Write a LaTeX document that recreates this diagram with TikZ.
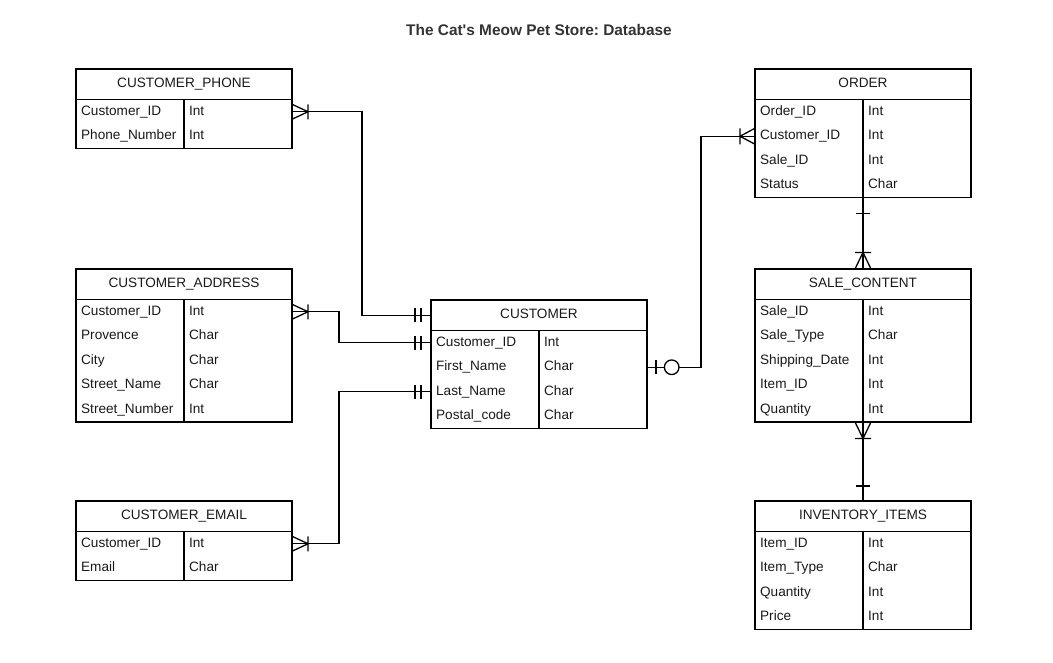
\documentclass[tikz,border=0pt]{standalone}
\usepackage{fontspec}
\setmainfont{Liberation Sans}[Ligatures=TeXOff]
\usetikzlibrary{positioning}
\frenchspacing
\begin{document}
\begin{tikzpicture}[x=1pt, y=-1pt, line width=1.3pt]
\tikzstyle{every node} = [font=\fontsize{13.6}{16}\selectfont, text=black!90]
\tikzstyle{head} = [draw, minimum width=216pt, minimum height=30.5pt, inner sep=0pt, outer sep=0pt, text height=9.7pt, text depth=4pt]
\tikzstyle{body} = [draw, minimum width=216pt, inner sep=0pt, outer sep=0pt]
\tikzstyle{field} = [anchor=west, inner sep=0pt, text height=9.9pt, text depth=2.9pt]
\useasboundingbox (0,0) rectangle (1053,662);

\node[font=\fontsize{15.4}{18}\selectfont\bfseries, text=black!80] (title) at (539,30) {The Cat's Meow Pet Store: Database};

% left tables
\node[head] (phone) at (184,84.25) {CUSTOMER\_PHONE};
\node[body, minimum height=49pt, below=0pt of phone] (phone-b) {};
\draw (phone-b.north) -- (phone-b.south);
\foreach \f/\t [count=\i] in {Customer\_ID/Int, Phone\_Number/Int}
  \path (phone-b.north west) ++(4.5,{24.5*\i-12.25}) node[field] (phone-\i) {\f}
        (phone-b.north) ++(4.5,{24.5*\i-12.25}) node[field] {\t};

\node[head] (address) at (184,284.25) {CUSTOMER\_ADDRESS};
\node[body, minimum height=122.5pt, below=0pt of address] (address-b) {};
\draw (address-b.north) -- (address-b.south);
\foreach \f/\t [count=\i] in {Customer\_ID/Int, Provence/Char, City/Char, Street\_Name/Char, Street\_Number/Int}
  \path (address-b.north west) ++(4.5,{24.5*\i-12.25}) node[field] (address-\i) {\f}
        (address-b.north) ++(4.5,{24.5*\i-12.25}) node[field] {\t};

\node[head] (email) at (184,516.25) {CUSTOMER\_EMAIL};
\node[body, minimum height=49pt, below=0pt of email] (email-b) {};
\draw (email-b.north) -- (email-b.south);
\foreach \f/\t [count=\i] in {Customer\_ID/Int, Email/Char}
  \path (email-b.north west) ++(4.5,{24.5*\i-12.25}) node[field] (email-\i) {\f}
        (email-b.north) ++(4.5,{24.5*\i-12.25}) node[field] {\t};

% middle
\node[head] (customer) at (539,315.25) {CUSTOMER};
\node[body, minimum height=98pt, below=0pt of customer] (customer-b) {};
\draw (customer-b.north) -- (customer-b.south);
\foreach \f/\t [count=\i] in {Customer\_ID/Int, First\_Name/Char, Last\_Name/Char, Postal\_code/Char}
  \path (customer-b.north west) ++(4.5,{24.5*\i-12.25}) node[field] (customer-\i) {\f}
        (customer-b.north) ++(4.5,{24.5*\i-12.25}) node[field] {\t};

% right tables
\node[head] (order) at (863,84.25) {ORDER};
\node[body, minimum height=98pt, below=0pt of order] (order-b) {};
\draw (order-b.north) -- (order-b.south);
\foreach \f/\t [count=\i] in {Order\_ID/Int, Customer\_ID/Int, Sale\_ID/Int, Status/Char}
  \path (order-b.north west) ++(4.5,{24.5*\i-12.25}) node[field] (order-\i) {\f}
        (order-b.north) ++(4.5,{24.5*\i-12.25}) node[field] {\t};

\node[head] (sale) at (863,284.25) {SALE\_CONTENT};
\node[body, minimum height=122.5pt, below=0pt of sale] (sale-b) {};
\draw (sale-b.north) -- (sale-b.south);
\foreach \f/\t [count=\i] in {Sale\_ID/Int, Sale\_Type/Char, Shipping\_Date/Int, Item\_ID/Int, Quantity/Int}
  \path (sale-b.north west) ++(4.5,{24.5*\i-12.25}) node[field] (sale-\i) {\f}
        (sale-b.north) ++(4.5,{24.5*\i-12.25}) node[field] {\t};

\node[head] (inventory) at (863,516.25) {INVENTORY\_ITEMS};
\node[body, minimum height=98pt, below=0pt of inventory] (inventory-b) {};
\draw (inventory-b.north) -- (inventory-b.south);
\foreach \f/\t [count=\i] in {Item\_ID/Int, Item\_Type/Char, Quantity/Int, Price/Int}
  \path (inventory-b.north west) ++(4.5,{24.5*\i-12.25}) node[field] (inventory-\i) {\f}
        (inventory-b.north) ++(4.5,{24.5*\i-12.25}) node[field] {\t};

% connectors
\draw (phone-b.east |- phone-1) -- ++(70,0) |- (customer.west);
\draw (address-b.east |- address-1) -- ++(47,0) |- (customer-b.west |- customer-1);
\draw (email-b.east |- email-1) -- ++(47,0) |- (customer-b.west |- customer-3);
\draw (customer-b.east |- customer-2) -- ++(54,0) |- (order-b.west |- order-2);
\draw (order-b.south) -- (sale.north);
\draw (sale-b.south) -- (inventory.north);

% one or many
\draw (phone-b.east |- phone-1) ++(0,-7.5) -- ++(16,7.5) -- ++(-16,7.5) ++(16,-15) -- ++(0,15);
\draw (address-b.east |- address-1) ++(0,-7.5) -- ++(16,7.5) -- ++(-16,7.5) ++(16,-15) -- ++(0,15);
\draw (email-b.east |- email-1) ++(0,-7.5) -- ++(16,7.5) -- ++(-16,7.5) ++(16,-15) -- ++(0,15);
\draw (order-b.west |- order-2) ++(0,-8) -- ++(-15,8) -- ++(15,8) ++(-15,-16) -- ++(0,16);
\draw (sale.north) ++(-8,0) -- ++(8,-16.5) -- ++(8,16.5) ++(-16,-16.5) -- ++(16,0);
\draw (sale-b.south) ++(-8,0) -- ++(8,16.5) -- ++(8,-16.5) ++(-16,16.5) -- ++(16,0);

% one and only one
\draw (customer.west) ++(-10,-7) -- ++(0,14) ++(-6,-14) -- ++(0,14);
\draw (customer-b.west |- customer-1) ++(-10,-7) -- ++(0,14) ++(-6,-14) -- ++(0,14);
\draw (customer-b.west |- customer-3) ++(-10,-7) -- ++(0,14) ++(-6,-14) -- ++(0,14);
\draw (order-b.south) ++(-7,16) -- ++(14,0);
\draw (inventory.north) ++(-7,-15) -- ++(14,0);

% zero or one
\draw (customer-b.east |- customer-2) ++(9,-7) -- ++(0,14);
\draw[fill=white] (customer-b.east |- customer-2) ++(24.7,0) circle (7.3);
\end{tikzpicture}
\end{document}
